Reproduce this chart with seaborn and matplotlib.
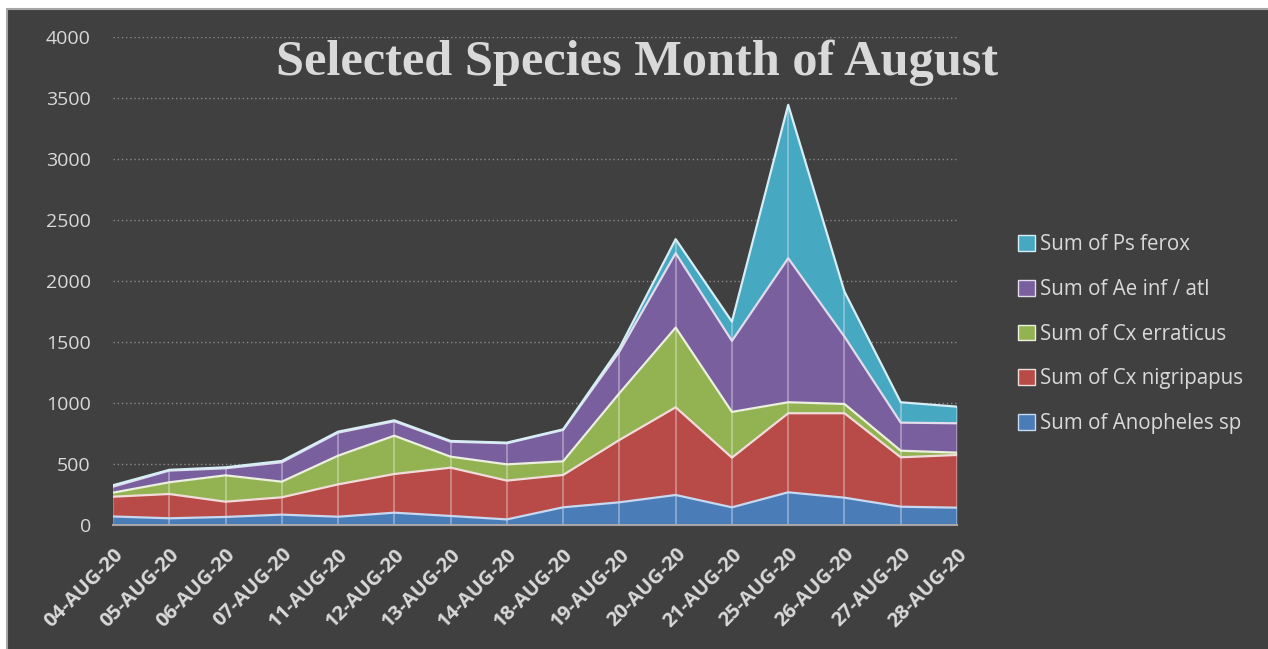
import matplotlib
matplotlib.use('agg')
import matplotlib.pyplot as plt
import numpy as np
import pandas as pd
import seaborn as sns
from matplotlib.patches import Patch, Rectangle

dates = ["04-AUG-20", "05-AUG-20", "06-AUG-20", "07-AUG-20", "11-AUG-20", "12-AUG-20",
         "13-AUG-20", "14-AUG-20", "18-AUG-20", "19-AUG-20", "20-AUG-20", "21-AUG-20",
         "25-AUG-20", "26-AUG-20", "27-AUG-20", "28-AUG-20"]
anopheles = [70, 55, 66, 85, 68, 101, 74, 46, 145, 186, 246, 145, 268, 224, 150, 142]
cx_nigripapus = [162, 199, 125, 142, 265, 317, 396, 318, 265, 511, 719, 407, 648, 692, 405, 432]
cx_erraticus = [33, 96, 216, 128, 235, 314, 90, 133, 112, 383, 653, 375, 90, 76, 54, 19]
ae_inf_atl = [49, 96, 58, 159, 189, 118, 123, 173, 257, 341, 610, 582, 1181, 552, 230, 241]
ps_ferox = [12, 6, 8, 11, 8, 8, 6, 5, 5, 28, 115, 158, 1257, 369, 167, 136]

series = ["Sum of Anopheles sp", "Sum of Cx nigripapus", "Sum of Cx erraticus",
          "Sum of Ae inf / atl", "Sum of Ps ferox"]
fills = ["#4a7cb8", "#b84a47", "#93b352", "#7a5f9e", "#47a8c2"]
edges = ["#c6d9f1", "#f2dcdb", "#ebf1de", "#e2dcec", "#d6eef5"]

bg = "#404040"
txt = "#d9d9d9"

sns.set_style("dark", {"axes.facecolor": bg, "figure.facecolor": "white"})
plt.rcParams['font.family'] = ['Open Sans', 'DejaVu Sans']

df = pd.DataFrame({
    "x": np.arange(len(dates)),
    series[0]: anopheles,
    series[1]: cx_nigripapus,
    series[2]: cx_erraticus,
    series[3]: ae_inf_atl,
    series[4]: ps_ferox,
})
cum = df[series].cumsum(axis=1)

fig = plt.figure(figsize=(12.68, 6.49), dpi=100)
fig.patches.append(Rectangle((7 / 1268, -0.01), 1.0, 1 - 9 / 649 + 0.01, transform=fig.transFigure,
                             facecolor=bg, edgecolor="#a6a6a6", linewidth=1.5, zorder=-5))
ax = fig.add_axes([113 / 1268, 1 - 525 / 649, (957 - 113) / 1268, (525 - 37) / 649])
ax.set_facecolor(bg)

# stacked areas
lower = np.zeros(len(dates))
for i, name in enumerate(series):
    upper = cum[name].values
    ax.fill_between(df["x"], lower, upper, color=fills[i], linewidth=0, zorder=2)
    lower = upper

# drop lines at each date
ax.vlines(df["x"], 0, cum[series[-1]].values, color="white", alpha=0.35, linewidth=1.3, zorder=3)

# light edges on top of each layer
for i, name in enumerate(series):
    sns.lineplot(x=df["x"], y=cum[name], ax=ax, color=edges[i], linewidth=1.6, legend=False, zorder=4)

ax.set_xlim(0, len(dates) - 1)
ax.set_ylim(0, 4000)
ax.set_yticks(range(0, 4001, 500))
ax.set_xticks(df["x"])
ax.set_xticklabels(dates, rotation=45, ha="right", va="top", rotation_mode="anchor",
                   fontweight="bold", fontsize=14.5, color=txt)
ax.tick_params(axis="x", pad=14, length=0)
ax.tick_params(axis="y", pad=16, length=0, labelsize=14, labelcolor=txt)
ax.set_xlabel("")
ax.set_ylabel("")
ax.grid(axis="y", color="#8a8a8a", linestyle=(0, (1, 2)), linewidth=1, zorder=1)
ax.set_axisbelow(True)
for side in ["left", "right", "top"]:
    ax.spines[side].set_visible(False)
ax.spines["bottom"].set_color("#a6a6a6")
ax.spines["bottom"].set_linewidth(1.5)
ax.spines["bottom"].set_zorder(5)

handles = [Patch(facecolor=fills[i], edgecolor=edges[i], linewidth=1) for i in range(len(series))][::-1]
fig.legend(handles, series[::-1], loc="upper left", bbox_to_anchor=(1008 / 1268, 1 - 224 / 649),
           frameon=False, fontsize=14.8, labelcolor=txt, handlelength=0.8, handleheight=0.8,
           handletextpad=0.25, labelspacing=1.15, borderpad=0)

fig.text(637 / 1268, 1 - 75 / 649, "Selected Species Month of August", ha="center", va="baseline",
         fontsize=36.3, fontweight="bold", color=txt, family=["Liberation Serif", "DejaVu Serif"])

fig.savefig("out.png", dpi=100)
